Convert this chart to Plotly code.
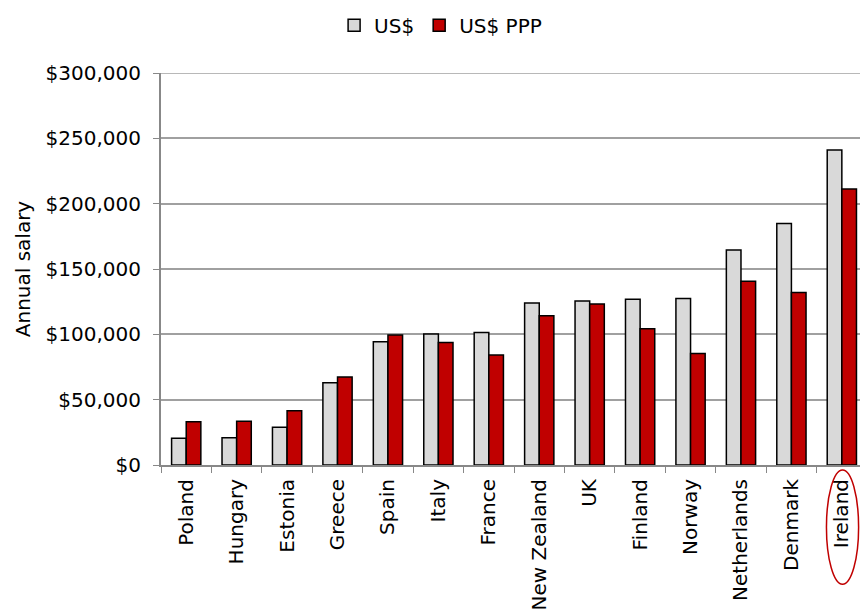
import plotly.graph_objects as go

countries = ["Poland", "Hungary", "Estonia", "Greece", "Spain", "Italy", "France",
             "New Zealand", "UK", "Finland", "Norway", "Netherlands", "Denmark", "Ireland"]
usd = [20400, 20900, 28800, 62900, 94300, 100200, 101400,
       123900, 125600, 126900, 127400, 164600, 184800, 241000]
usd_ppp = [33100, 33400, 41500, 67300, 99400, 93800, 84100,
           114200, 123300, 104200, 85400, 140700, 132000, 211200]
y_ticks = [0, 50000, 100000, 150000, 200000, 250000, 300000]
y_tick_text = ["$0", "$50,000", "$100,000", "$150,000", "$200,000", "$250,000", "$300,000"]

FONT = "DejaVu Sans"
FS = 20
fig = go.Figure()
fig.add_trace(go.Bar(name="US$", x=countries, y=usd,
                     marker=dict(color="#D9D9D9", line=dict(color="#000000", width=1.5))))
fig.add_trace(go.Bar(name="US$ PPP", x=countries, y=usd_ppp,
                     marker=dict(color="#C00000", line=dict(color="#000000", width=1.5))))

fig.update_layout(
    width=860, height=615,
    margin=dict(l=161, r=0, t=73, b=150),
    paper_bgcolor="white", plot_bgcolor="white",
    barmode="group", bargap=0.42, bargroupgap=0,
    font=dict(family=FONT, size=FS, color="#000000"),
    legend=dict(orientation="h", x=0.40, xanchor="center", y=1.122, yanchor="middle",
                font=dict(size=FS), itemwidth=30, traceorder="normal"),
    xaxis=dict(range=[-0.5, 13.36], tickangle=-90, tickson="boundaries",
               ticks="outside", ticklen=6, tickcolor="#888888",
               showline=True, linecolor="#888888", linewidth=2,
               showgrid=False, tickfont=dict(size=FS), automargin=False,
               ticklabelstandoff=4),
    yaxis=dict(range=[0, 300000], tickvals=y_ticks, ticktext=y_tick_text,
               ticks="outside", ticklen=6, tickcolor="#888888",
               showline=True, linecolor="#888888", linewidth=2,
               showgrid=True, gridcolor="#A0A0A0", gridwidth=1.5,
               zeroline=False, tickfont=dict(size=FS), ticklabelstandoff=8,
               automargin=False,
               title=dict(text="Annual salary", font=dict(size=FS), standoff=10)),
)

# top gridline at the axis maximum
fig.add_shape(type="line", xref="paper", yref="y", x0=0, x1=1,
              y0=y_ticks[-1], y1=y_ticks[-1], line=dict(color="#A0A0A0", width=1.5),
              layer="below")

fig.add_shape(type="circle", xref="paper", yref="paper",
              x0=0.952, x1=0.998, y0=-0.304, y1=-0.013,
              line=dict(color="#C00000", width=1.5))

fig.write_html("out.html", config={"displayModeBar": False},
               post_script="document.body.style.margin='0';document.body.style.overflow='hidden';")
